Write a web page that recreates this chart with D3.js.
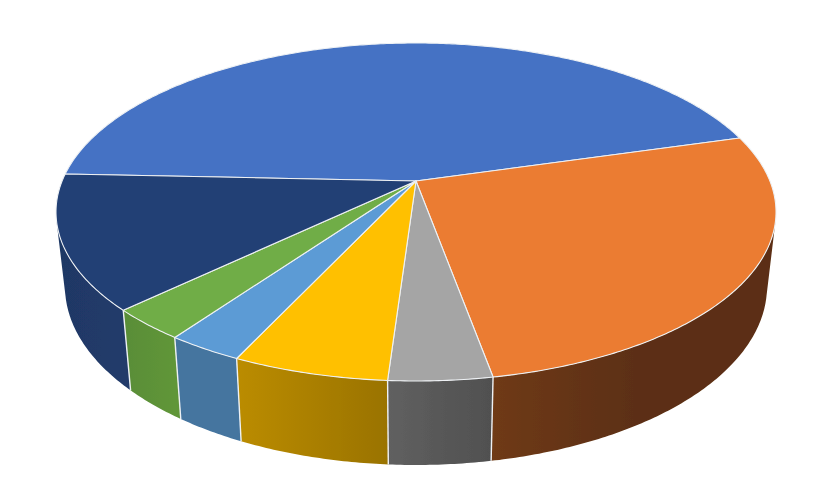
<!DOCTYPE html>
<html lang="en">
<head>
<meta charset="utf-8">
<title>3D pie</title>
<script src="https://d3js.org/d3.v7.min.js"></script>
<style>
  html, body { margin: 0; padding: 0; background: #fff; }
  svg { display: block; }
</style>
</head>
<body>
<div id="graph"></div>
<script>
// slice shares, clockwise from the blue slice
var sliceNames = ["Blue", "Orange", "Gray", "Yellow", "Light blue", "Green", "Navy"];
var sliceValues = [44.85, 26.6, 3.9, 5.9, 2.9, 3.0, 12.85];
var topColors = ["#4472c4", "#eb7c31", "#a5a5a5", "#ffc000", "#5b9bd5", "#70ad47", "#234075"];
var wallLeft = ["#29498a", "#6f3a14", "#606060", "#bb8c00", "#44749f", "#598d37", "#1f3864"];
var wallRight = ["#29498a", "#5c2f12", "#505050", "#9a7300", "#44749f", "#609639", "#213b6b"];
var wallSpan = [1, 0.5, 1, 1, 1, 1, 1];

var width = 830, height = 485;

// tilt of the disc: circle -> ellipse in perspective, apex at (416,181)
var apexX = 416, apexY = 181;
var a = 353.9, b = 163.3, k = -0.1834;

// rim of the floor of the cake, from the rim of the top face
var floorX = d3.scaleLinear().domain([56, 776]).range([65, 767]);
var floorY = d3.scaleLinear().domain([310, 381]).range([390, 465]);

function rim(angle) {
	var u = Math.sin(angle), v = -Math.cos(angle);
	var w = 1 + k * v;
	return [apexX + a * u / w, apexY + b * v / w];
}
function floor(p) { return [floorX(p[0]), floorY(p[1])]; }

function rimPoints(d) {
	var n = Math.max(2, Math.ceil((d.endAngle - d.startAngle) / 0.01));
	return d3.range(n + 1).map(function(i) {
		return rim(d.startAngle + (d.endAngle - d.startAngle) * i / n);
	});
}

// keep only the part of the rim whose wall faces the viewer
function frontPoints(points) {
	var out = [];
	d3.pairs(points).forEach(function(s) {
		var e = floor(s[0]);
		var cross = (s[1][0] - s[0][0]) * (e[1] - s[0][1]) - (s[1][1] - s[0][1]) * (e[0] - s[0][0]);
		if (cross < 0) {
			if (!out.length) out.push(s[0]);
			out.push(s[1]);
		}
	});
	return out;
}

var svg = d3.select("#graph").append("svg")
	.attr("width", width)
	.attr("height", height);

var startAngle = -87.5 * Math.PI / 180;
var slices = d3.pie().sort(null)
	.startAngle(startAngle)
	.endAngle(startAngle + 2 * Math.PI)(sliceValues);

var line = d3.line();
var defs = svg.append("defs");

// the reference is a slightly soft raster
defs.append("filter").attr("id", "soft")
	.append("feGaussianBlur").attr("stdDeviation", 0.35);
var chart = svg.append("g").attr("filter", "url(#soft)");

// side walls first, the top face covers their upper edge
var walls = chart.append("g");
slices.forEach(function(d, i) {
	var top = frontPoints(rimPoints(d));
	if (!top.length) return;
	var xs = top.map(function(p) { return p[0]; });
	var x0 = d3.min(xs), x1 = d3.max(xs);
	var grad = defs.append("linearGradient")
		.attr("id", "wall" + i)
		.attr("gradientUnits", "userSpaceOnUse")
		.attr("x1", x0).attr("x2", x0 + (x1 - x0) * wallSpan[i])
		.attr("y1", 0).attr("y2", 0);
	grad.append("stop").attr("offset", 0).attr("stop-color", wallLeft[i]);
	grad.append("stop").attr("offset", 1).attr("stop-color", wallRight[i]);

	walls.append("path")
		.attr("d", line(top.concat(top.map(floor).reverse())) + "Z")
		.attr("fill", "url(#wall" + i + ")");
});
// separators between the visible walls
slices.slice(2, 7).forEach(function(d) {
	var p = rim(d.startAngle);
	walls.append("path")
		.attr("d", line([p, floor(p)]))
		.attr("stroke", "#eef1f4")
		.attr("stroke-width", 1.4)
		.attr("fill", "none");
});

// top face
var faces = chart.append("g");
slices.forEach(function(d, i) {
	faces.append("path")
		.attr("d", line([[apexX, apexY]].concat(rimPoints(d))) + "Z")
		.attr("fill", topColors[i])
		.attr("stroke", "#eef1f4")
		.attr("stroke-width", 1.1)
		.attr("stroke-linejoin", "round")
		.append("title").text(sliceNames[i]);
});
</script>
</body>
</html>
